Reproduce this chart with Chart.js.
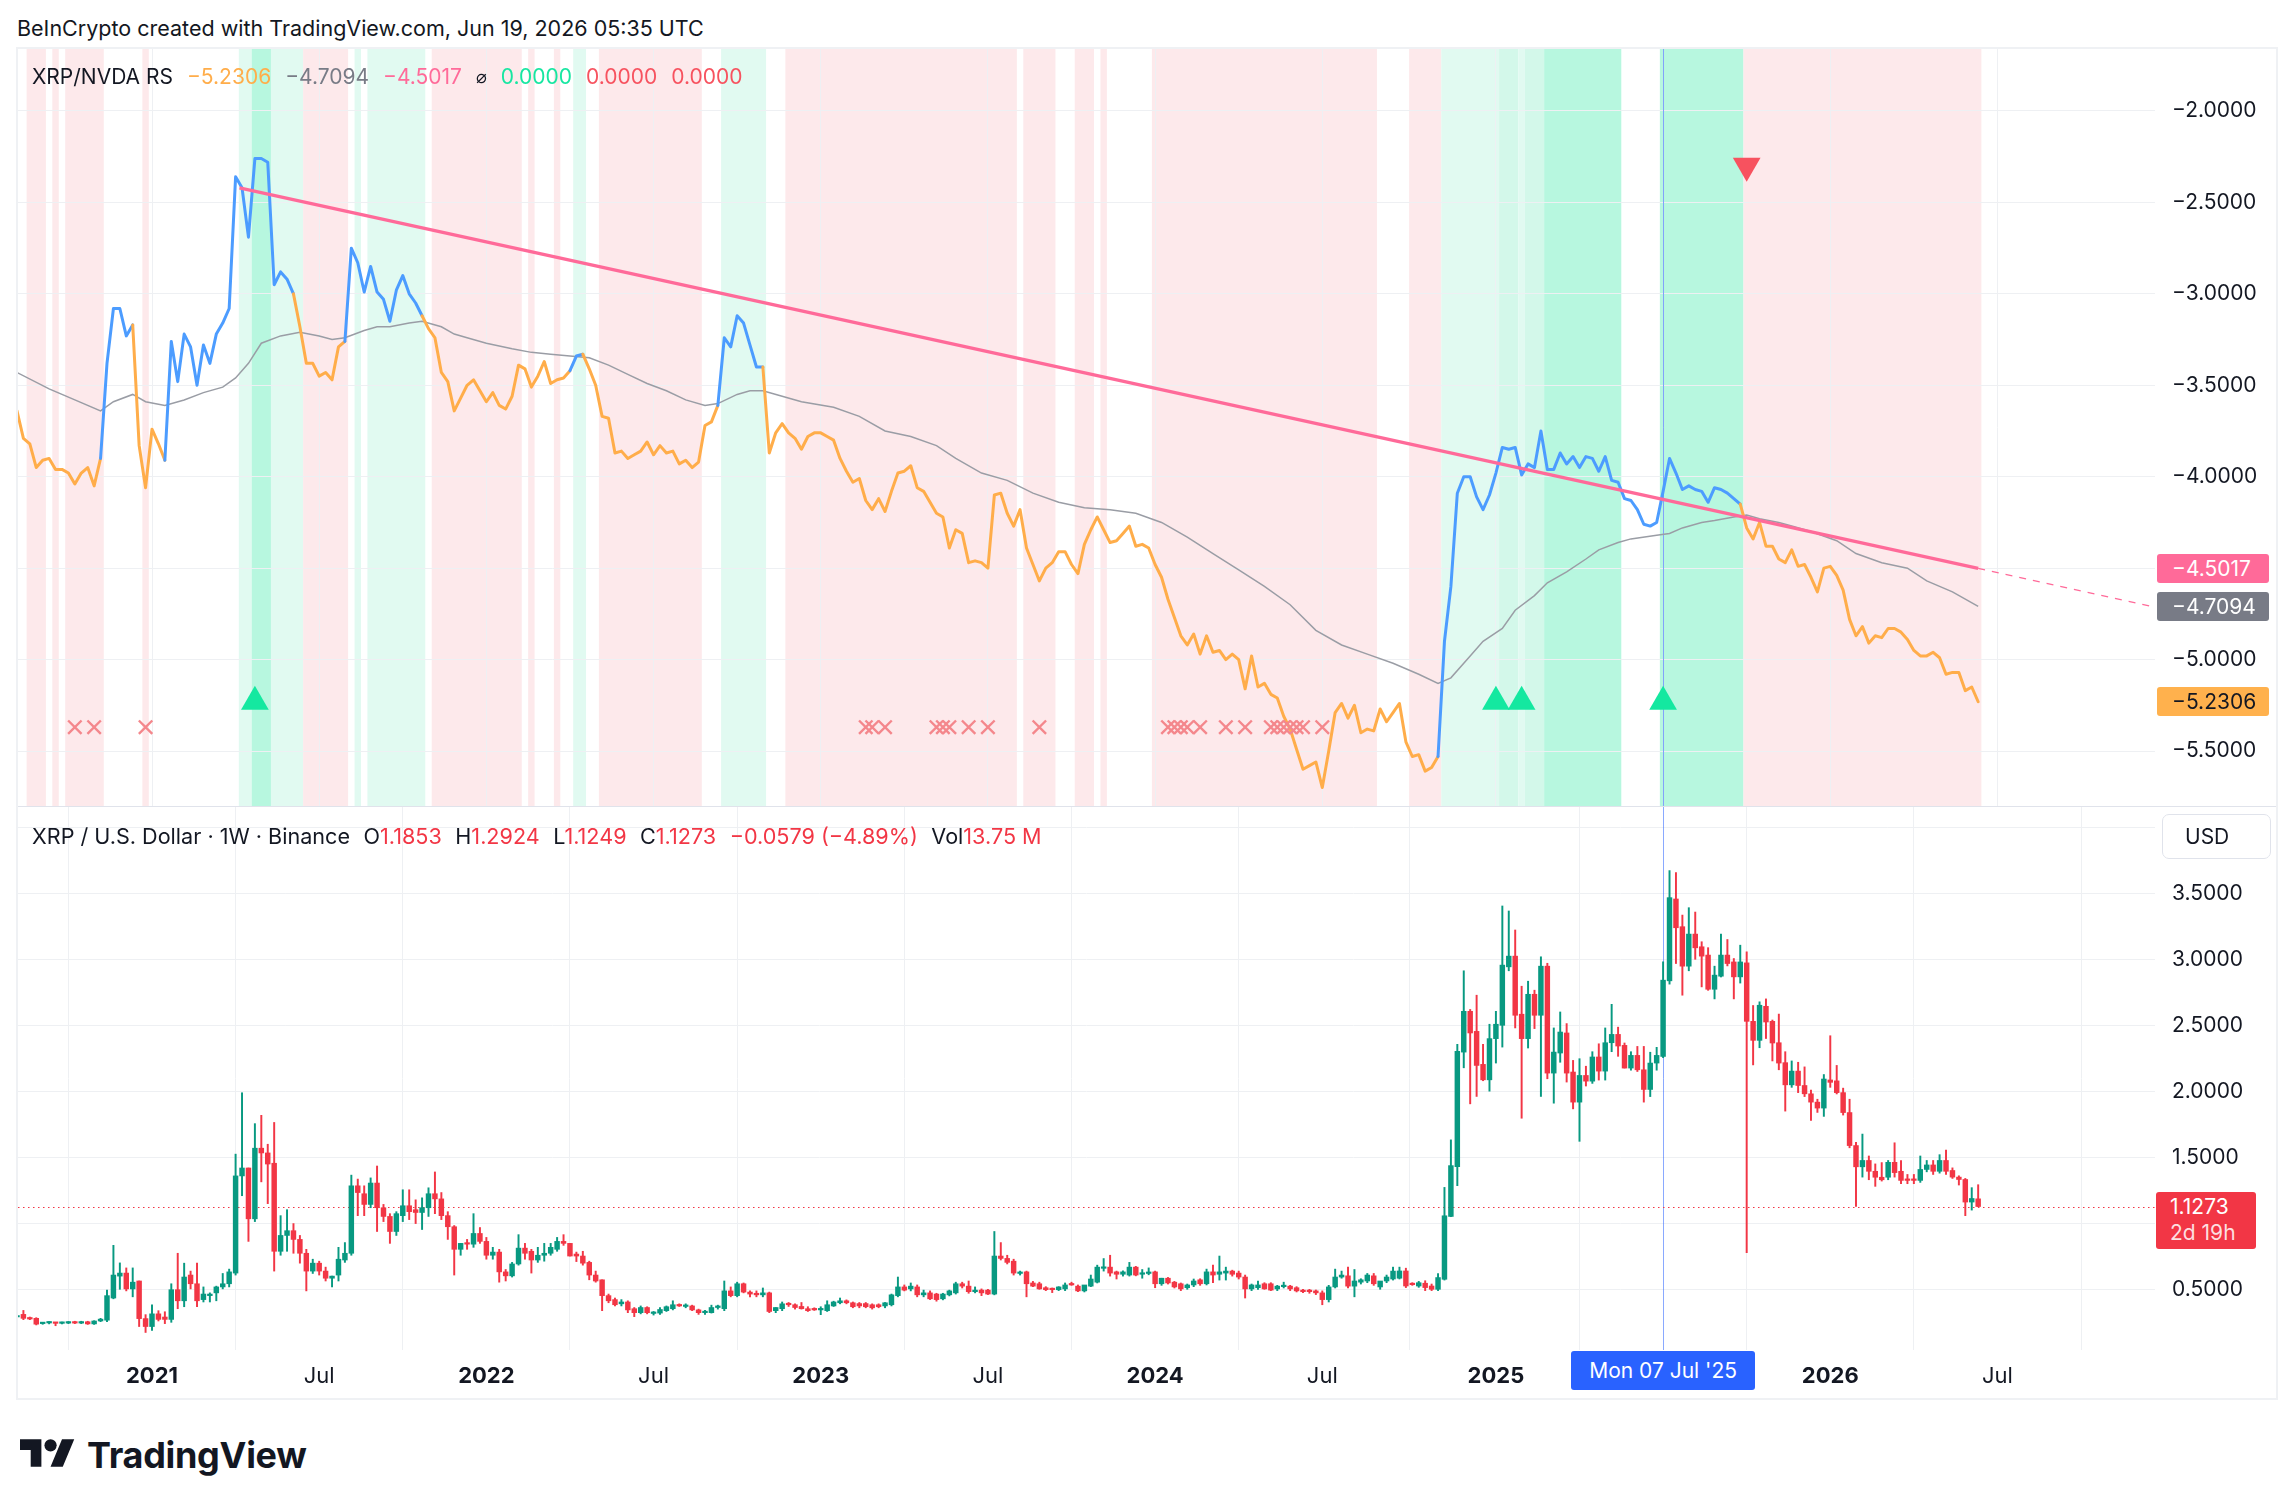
<!DOCTYPE html>
<html>
<head>
<meta charset="utf-8">
<title>XRP/NVDA RS</title>
<script src="https://cdn.jsdelivr.net/npm/chart.js@4.4.1/dist/chart.umd.min.js"></script>
<style>
  html, body { margin:0; padding:0; background:#ffffff; }
  body { width:2295px; height:1508px; position:relative; overflow:hidden; font-family: Inter, "Noto Sans", "DejaVu Sans", sans-serif; color:#131722; }
  .a { position:absolute; }
  canvas { position:absolute; display:block; }
  #hdr { left:17px; top:14px; font-size:21.5px; line-height:28px; white-space:nowrap; }
  #frame { left:16px; top:47px; width:2262px; height:1353px; border:2px solid #EFF1F4; box-sizing:border-box; }
  #sep { left:18px; top:806px; width:2258px; height:1px; background:#E0E3EB; }
  .legend { position:absolute; display:flex; align-items:center; gap:14px; font-size:21px; white-space:nowrap; height:30px; line-height:30px; }
  .tag { position:absolute; left:2157px; width:112px; height:29px; border-radius:3px; font-size:21px; line-height:29px; padding-left:15px; box-sizing:border-box; white-space:nowrap; }
  .r { color:#F23645; }
</style>
</head>
<body>
<div id="hdr" class="a">BeInCrypto created with TradingView.com, Jun 19, 2026 05:35 UTC</div>
<div id="frame" class="a"></div>
<canvas id="topc" width="2259" height="757" style="left:18px;top:49px;width:2259px;height:757px;"></canvas>
<canvas id="botc" width="2259" height="591" style="left:18px;top:807px;width:2259px;height:591px;"></canvas>
<div id="sep" class="a"></div>

<div class="legend" style="left:32px;top:62px;">
  <span>XRP/NVDA RS</span>
  <span style="color:#FFAD4A">−5.2306</span>
  <span style="color:#787B86">−4.7094</span>
  <span style="color:#FF6A99">−4.5017</span>
  <span style="font-family:'DejaVu Sans',sans-serif;font-size:18px;">⌀</span>
  <span style="color:#17E6A1">0.0000</span>
  <span style="color:#F7525F">0.0000</span>
  <span style="color:#F7525F">0.0000</span>
</div>
<div class="legend" style="left:32px;top:821px;gap:13.5px;font-size:21.6px;">
  <span>XRP / U.S. Dollar · 1W · Binance</span>
  <span>O<span class="r">1.1853</span></span>
  <span>H<span class="r">1.2924</span></span>
  <span>L<span class="r">1.1249</span></span>
  <span>C<span class="r">1.1273</span></span>
  <span class="r">−0.0579 (−4.89%)</span>
  <span>Vol<span class="r">13.75 M</span></span>
</div>
<div class="a" style="left:2162px;top:814px;width:109px;height:45px;border:1px solid #E0E3EB;border-radius:7px;box-sizing:border-box;font-size:21px;line-height:43px;padding-left:22px;">USD</div>

<svg class="a" style="left:20px;top:1433px;" width="55" height="43" viewBox="0 0 36 28"><path fill="#131722" d="M14 22H7V11H0V4h14v18zM28 22h-8l7.5-18h8L28 22z"/><circle fill="#131722" cx="20" cy="8" r="4"/></svg>
<div class="a" style="left:87px;top:1433px;font-size:36px;font-weight:700;line-height:44px;letter-spacing:-0.3px;">TradingView</div>

<script>
// ---------------- DATA ----------------
const firstBarDate = '2020-08-10';            // Monday of the first weekly bar
const tickDates  = ['2021-01-04','2021-07-05','2022-01-03','2022-07-04','2023-01-02','2023-07-03','2024-01-01','2024-07-01','2025-01-06','2025-07-07','2026-01-05','2026-07-06'];
const tickLabels = ['2021','Jul','2022','Jul','2023','Jul','2024','Jul','2025','Jul','2026','Jul'];
const crosshairDate = '2025-07-07';
const crosshairLabel = "Mon 07 Jul '25";

// weekly XRP/USD candles [open, high, low, close]
const ohlc = [
[0.290,0.305,0.284,0.300],[0.310,0.340,0.270,0.280],[0.280,0.290,0.270,0.275],[0.280,0.285,0.230,0.236],[0.240,0.250,0.235,0.248],
[0.245,0.255,0.238,0.248],[0.248,0.250,0.224,0.242],[0.242,0.252,0.238,0.248],[0.244,0.256,0.240,0.254],[0.254,0.258,0.240,0.244],
[0.244,0.258,0.240,0.254],[0.254,0.258,0.234,0.238],[0.238,0.262,0.234,0.260],[0.260,0.280,0.255,0.274],[0.266,0.494,0.254,0.452],
[0.434,0.833,0.428,0.608],[0.600,0.700,0.500,0.623],[0.623,0.662,0.488,0.503],[0.503,0.662,0.443,0.554],[0.563,0.563,0.218,0.278],
[0.278,0.308,0.173,0.218],[0.218,0.383,0.188,0.314],[0.314,0.338,0.260,0.272],[0.290,0.330,0.240,0.272],[0.272,0.542,0.250,0.497],
[0.497,0.773,0.353,0.413],[0.413,0.698,0.368,0.593],[0.608,0.638,0.503,0.542],[0.542,0.698,0.368,0.413],[0.422,0.518,0.404,0.464],
[0.452,0.473,0.404,0.464],[0.473,0.524,0.413,0.518],[0.518,0.620,0.503,0.542],[0.542,0.653,0.518,0.632],[0.623,1.524,0.608,1.359],
[1.359,1.989,1.209,1.419],[1.419,1.419,0.863,1.034],[1.034,1.755,1.013,1.569],[1.569,1.818,1.314,1.533],[1.533,1.599,1.149,1.449],
[1.455,1.764,0.638,0.788],[0.788,1.058,0.758,0.908],[0.908,1.103,0.788,0.944],[0.944,0.998,0.773,0.878],[0.878,0.908,0.698,0.773],
[0.773,0.803,0.488,0.638],[0.638,0.728,0.620,0.698],[0.698,0.713,0.608,0.638],[0.638,0.668,0.563,0.584],[0.584,0.600,0.518,0.600],
[0.608,0.818,0.563,0.728],[0.722,0.854,0.704,0.773],[0.773,1.365,0.758,1.284],[1.284,1.335,1.058,1.233],[1.224,1.284,1.058,1.143],
[1.143,1.344,1.118,1.305],[1.305,1.434,0.938,1.118],[1.118,1.143,1.013,1.052],[1.052,1.073,0.848,0.938],[0.938,1.088,0.908,1.073],
[1.058,1.254,1.013,1.133],[1.133,1.254,1.028,1.088],[1.103,1.178,0.998,1.082],[1.082,1.193,0.953,1.118],[1.118,1.269,1.052,1.224],
[1.224,1.389,1.073,1.185],[1.185,1.233,1.028,1.058],[1.058,1.088,0.878,0.974],[0.974,0.983,0.608,0.803],[0.803,0.848,0.758,0.848],
[0.848,0.878,0.803,0.842],[0.842,1.073,0.818,0.923],[0.923,0.968,0.848,0.863],[0.863,0.893,0.728,0.758],[0.758,0.818,0.728,0.782],
[0.782,0.803,0.554,0.632],[0.632,0.650,0.563,0.602],[0.602,0.704,0.593,0.692],[0.692,0.914,0.683,0.812],[0.812,0.848,0.728,0.773],
[0.788,0.803,0.623,0.722],[0.722,0.818,0.704,0.758],[0.758,0.848,0.713,0.773],[0.773,0.848,0.758,0.818],[0.803,0.893,0.788,0.863],
[0.863,0.914,0.833,0.848],[0.848,0.848,0.752,0.752],[0.767,0.782,0.710,0.752],[0.752,0.788,0.683,0.698],[0.704,0.713,0.572,0.608],
[0.608,0.638,0.554,0.563],[0.572,0.572,0.338,0.452],[0.452,0.464,0.398,0.413],[0.422,0.434,0.374,0.383],[0.390,0.422,0.374,0.404],
[0.404,0.413,0.323,0.344],[0.353,0.362,0.293,0.323],[0.323,0.374,0.314,0.362],[0.362,0.368,0.314,0.323],[0.317,0.332,0.305,0.323],
[0.320,0.362,0.310,0.347],[0.338,0.374,0.332,0.368],[0.353,0.413,0.344,0.383],[0.383,0.390,0.370,0.374],[0.370,0.390,0.360,0.378],
[0.374,0.380,0.338,0.344],[0.344,0.350,0.310,0.323],[0.323,0.340,0.310,0.332],[0.323,0.380,0.320,0.362],[0.362,0.380,0.350,0.374],
[0.353,0.563,0.338,0.488],[0.488,0.518,0.443,0.452],[0.452,0.554,0.443,0.542],[0.542,0.548,0.473,0.479],[0.479,0.488,0.443,0.464],
[0.470,0.488,0.443,0.458],[0.458,0.510,0.443,0.473],[0.473,0.479,0.323,0.332],[0.338,0.362,0.323,0.362],[0.353,0.404,0.338,0.390],
[0.390,0.400,0.370,0.383],[0.383,0.390,0.350,0.362],[0.370,0.400,0.350,0.353],[0.353,0.368,0.332,0.338],[0.353,0.360,0.340,0.344],
[0.344,0.368,0.308,0.353],[0.338,0.413,0.332,0.383],[0.374,0.410,0.370,0.404],[0.398,0.434,0.390,0.413],[0.413,0.420,0.390,0.398],
[0.398,0.404,0.360,0.368],[0.392,0.400,0.360,0.374],[0.392,0.400,0.360,0.368],[0.383,0.390,0.350,0.360],[0.383,0.390,0.360,0.368],
[0.374,0.400,0.360,0.398],[0.383,0.464,0.374,0.458],[0.452,0.593,0.443,0.518],[0.518,0.533,0.488,0.494],[0.503,0.548,0.488,0.524],
[0.518,0.533,0.443,0.458],[0.458,0.494,0.443,0.473],[0.473,0.488,0.422,0.428],[0.464,0.470,0.410,0.422],[0.428,0.470,0.420,0.464],
[0.458,0.494,0.450,0.488],[0.473,0.554,0.464,0.542],[0.542,0.554,0.510,0.524],[0.524,0.563,0.470,0.482],[0.482,0.518,0.473,0.494],
[0.494,0.503,0.452,0.473],[0.494,0.500,0.460,0.464],[0.464,0.938,0.458,0.752],[0.752,0.854,0.722,0.734],[0.734,0.758,0.692,0.704],
[0.713,0.728,0.608,0.623],[0.620,0.638,0.608,0.628],[0.632,0.638,0.443,0.542],[0.548,0.560,0.520,0.524],[0.542,0.554,0.500,0.503],
[0.512,0.520,0.490,0.497],[0.503,0.510,0.475,0.497],[0.497,0.520,0.490,0.518],[0.503,0.548,0.490,0.533],[0.542,0.554,0.530,0.533],
[0.524,0.533,0.482,0.488],[0.488,0.530,0.480,0.533],[0.524,0.608,0.520,0.578],[0.554,0.683,0.548,0.668],[0.659,0.733,0.638,0.668],
[0.668,0.758,0.600,0.623],[0.632,0.638,0.578,0.614],[0.614,0.640,0.600,0.632],[0.608,0.704,0.600,0.668],[0.668,0.674,0.602,0.608],
[0.614,0.650,0.584,0.623],[0.620,0.662,0.610,0.623],[0.632,0.638,0.512,0.542],[0.542,0.584,0.530,0.584],[0.584,0.590,0.540,0.548],
[0.554,0.560,0.510,0.518],[0.542,0.548,0.490,0.503],[0.512,0.540,0.500,0.533],[0.533,0.578,0.520,0.563],[0.572,0.580,0.530,0.542],
[0.542,0.653,0.533,0.632],[0.632,0.683,0.550,0.608],[0.614,0.752,0.570,0.632],[0.623,0.668,0.570,0.638],[0.638,0.645,0.600,0.614],
[0.623,0.638,0.578,0.593],[0.593,0.608,0.434,0.503],[0.503,0.540,0.490,0.533],[0.512,0.563,0.500,0.533],[0.542,0.550,0.500,0.503],
[0.542,0.550,0.490,0.494],[0.503,0.530,0.490,0.524],[0.520,0.554,0.510,0.524],[0.524,0.530,0.490,0.503],[0.512,0.520,0.480,0.488],
[0.494,0.500,0.475,0.482],[0.494,0.500,0.470,0.482],[0.488,0.495,0.460,0.473],[0.473,0.488,0.383,0.422],[0.422,0.530,0.404,0.518],
[0.518,0.653,0.510,0.593],[0.593,0.638,0.584,0.608],[0.602,0.668,0.510,0.524],[0.524,0.650,0.443,0.563],[0.554,0.580,0.540,0.572],
[0.563,0.620,0.550,0.608],[0.602,0.620,0.530,0.542],[0.518,0.560,0.500,0.563],[0.563,0.608,0.550,0.593],[0.578,0.668,0.570,0.638],
[0.584,0.668,0.578,0.639],[0.639,0.660,0.513,0.525],[0.545,0.550,0.530,0.535],[0.525,0.560,0.515,0.550],[0.546,0.565,0.490,0.513],
[0.525,0.540,0.490,0.500],[0.500,0.619,0.490,0.589],[0.576,1.272,0.570,1.057],[1.052,1.632,1.050,1.437],[1.429,2.356,1.285,2.303],
[2.297,2.913,2.178,2.606],[2.606,2.620,1.905,2.442],[2.454,2.728,1.961,2.196],[2.204,2.356,2.080,2.087],[2.087,2.508,2.001,2.399],
[2.399,2.606,2.214,2.508],[2.500,3.404,2.335,2.956],[2.943,3.366,2.913,3.024],[3.024,3.222,2.480,2.576],[2.584,2.796,1.796,2.399],
[2.399,2.834,2.328,2.735],[2.735,2.766,2.475,2.576],[2.576,3.019,1.961,2.948],[2.948,2.970,2.095,2.138],[2.138,2.480,1.910,2.297],
[2.290,2.601,2.220,2.449],[2.442,2.513,2.070,2.138],[2.146,2.234,1.867,1.918],[1.918,2.247,1.621,2.120],[2.120,2.190,2.040,2.077],
[2.077,2.300,2.060,2.260],[2.260,2.360,2.085,2.153],[2.153,2.480,2.085,2.368],[2.368,2.659,2.300,2.431],[2.431,2.486,2.265,2.343],
[2.348,2.366,2.176,2.176],[2.176,2.300,2.160,2.272],[2.272,2.340,2.150,2.163],[2.163,2.340,1.918,2.014],[2.014,2.296,1.960,2.214],
[2.214,2.333,2.160,2.272],[2.264,2.981,2.255,2.842],[2.837,3.672,2.812,3.467],[3.457,3.657,2.968,3.239],[3.247,3.335,2.728,2.948],
[2.948,3.391,2.913,3.191],[3.191,3.358,3.000,3.087],[3.095,3.133,2.791,3.024],[3.032,3.088,2.765,2.773],[2.773,2.948,2.700,2.880],
[2.872,3.191,2.866,3.032],[3.032,3.150,2.950,2.968],[2.980,3.006,2.700,2.867],[2.867,3.107,2.820,2.980],[2.973,3.057,0.778,2.530],
[2.530,2.650,2.200,2.386],[2.386,2.678,2.330,2.652],[2.644,2.700,2.400,2.525],[2.530,2.540,2.230,2.366],[2.368,2.585,2.163,2.214],
[2.217,2.300,1.850,2.049],[2.049,2.230,2.030,2.153],[2.153,2.220,1.990,2.044],[2.044,2.185,1.960,1.981],[1.981,2.010,1.780,1.918],
[1.918,1.940,1.840,1.873],[1.873,2.127,1.810,2.093],[2.086,2.421,2.030,2.068],[2.079,2.196,1.980,1.990],[1.990,2.024,1.820,1.839],
[1.839,1.940,1.572,1.589],[1.589,1.613,1.127,1.428],[1.428,1.676,1.350,1.476],[1.476,1.510,1.330,1.394],[1.394,1.450,1.280,1.349],
[1.349,1.460,1.320,1.330],[1.349,1.476,1.330,1.462],[1.462,1.610,1.350,1.384],[1.394,1.476,1.300,1.325],[1.332,1.370,1.300,1.325],
[1.332,1.370,1.300,1.325],[1.325,1.510,1.310,1.408],[1.408,1.476,1.390,1.442],[1.442,1.476,1.370,1.394],[1.394,1.520,1.380,1.476],
[1.476,1.555,1.370,1.394],[1.400,1.420,1.340,1.350],[1.350,1.360,1.290,1.332],[1.332,1.340,1.058,1.161],[1.161,1.270,1.100,1.188],
[1.1853,1.2924,1.1249,1.1273]
];

// XRP/NVDA relative strength, one value per weekly bar
const rsValues = [
-3.64,-3.79,-3.82,-3.95,-3.91,-3.90,-3.96,-3.96,-3.98,-4.04,-3.98,-3.95,-4.05,-3.90,-3.38,-3.08,-3.08,-3.23,-3.17,-3.83,
-4.06,-3.74,-3.82,-3.91,-3.26,-3.48,-3.22,-3.29,-3.50,-3.28,-3.38,-3.22,-3.16,-3.08,-2.36,-2.42,-2.69,-2.26,-2.26,-2.28,
-2.95,-2.88,-2.92,-3.00,-3.18,-3.38,-3.38,-3.45,-3.43,-3.47,-3.29,-3.26,-2.75,-2.83,-2.99,-2.85,-2.99,-3.03,-3.15,-2.98,
-2.90,-3.00,-3.05,-3.12,-3.19,-3.24,-3.43,-3.48,-3.64,-3.57,-3.50,-3.47,-3.53,-3.59,-3.54,-3.61,-3.63,-3.56,-3.39,-3.41,
-3.51,-3.45,-3.37,-3.49,-3.47,-3.46,-3.42,-3.34,-3.33,-3.41,-3.50,-3.67,-3.68,-3.87,-3.86,-3.90,-3.88,-3.86,-3.81,-3.88,
-3.83,-3.87,-3.86,-3.93,-3.91,-3.95,-3.92,-3.72,-3.70,-3.61,-3.24,-3.29,-3.12,-3.16,-3.28,-3.40,-3.40,-3.87,-3.76,-3.71,
-3.76,-3.79,-3.85,-3.78,-3.76,-3.76,-3.78,-3.80,-3.90,-3.97,-4.03,-4.01,-4.13,-4.18,-4.12,-4.19,-4.08,-3.98,-3.97,-3.94,
-4.06,-4.08,-4.14,-4.20,-4.22,-4.39,-4.29,-4.31,-4.47,-4.46,-4.47,-4.50,-4.10,-4.09,-4.20,-4.27,-4.18,-4.39,-4.48,-4.57,
-4.50,-4.47,-4.41,-4.41,-4.48,-4.53,-4.37,-4.29,-4.22,-4.29,-4.36,-4.35,-4.31,-4.27,-4.38,-4.37,-4.39,-4.48,-4.55,-4.67,
-4.77,-4.87,-4.92,-4.86,-4.97,-4.87,-4.96,-4.95,-5.00,-4.97,-5.00,-5.16,-4.98,-5.15,-5.13,-5.19,-5.21,-5.31,-5.38,-5.49,
-5.60,-5.58,-5.56,-5.70,-5.50,-5.29,-5.24,-5.32,-5.25,-5.40,-5.38,-5.39,-5.27,-5.34,-5.29,-5.24,-5.45,-5.53,-5.52,-5.61,
-5.59,-5.53,-4.90,-4.60,-4.09,-4.00,-4.00,-4.11,-4.18,-4.10,-3.98,-3.84,-3.85,-3.84,-3.99,-3.93,-3.95,-3.75,-3.96,-3.96,
-3.87,-3.93,-3.89,-3.95,-3.89,-3.90,-3.97,-3.89,-4.02,-4.03,-4.12,-4.13,-4.18,-4.26,-4.27,-4.25,-4.08,-3.90,-3.98,-4.07,
-4.05,-4.07,-4.08,-4.14,-4.06,-4.07,-4.09,-4.12,-4.15,-4.28,-4.34,-4.25,-4.38,-4.38,-4.45,-4.47,-4.40,-4.49,-4.48,-4.55,
-4.63,-4.50,-4.49,-4.54,-4.62,-4.78,-4.87,-4.82,-4.91,-4.87,-4.88,-4.83,-4.83,-4.85,-4.89,-4.95,-4.98,-4.98,-4.96,-4.99,
-5.08,-5.07,-5.07,-5.17,-5.15,-5.2306
];

// moving average of the RS line (bar index, value)
const maIndex  = [0,5,9,13,15,18,20,23,26,29,32,34,36,38,41,44,47,49,51,54,56,58,61,63,66,68,70,73,77,80,83,86,89,92,95,98,101,104,107,109,112,114,116,119,122,127,131,135,139,143,146,150,154,158,162,166,170,174,178,182,186,190,194,198,202,206,210,214,218,221,223,226,228,231,233,236,238,241,244,246,249,251,255,257,259,262,264,267,269,271,274,276,279,283,286,290,294,297,301,305];
const maValues = [-3.43,-3.52,-3.58,-3.64,-3.59,-3.55,-3.59,-3.61,-3.58,-3.54,-3.51,-3.46,-3.38,-3.27,-3.23,-3.21,-3.23,-3.25,-3.24,-3.20,-3.18,-3.18,-3.16,-3.15,-3.18,-3.22,-3.24,-3.27,-3.30,-3.32,-3.33,-3.34,-3.35,-3.39,-3.44,-3.49,-3.53,-3.58,-3.61,-3.60,-3.55,-3.53,-3.53,-3.56,-3.59,-3.62,-3.67,-3.75,-3.78,-3.83,-3.90,-3.98,-4.02,-4.09,-4.14,-4.17,-4.18,-4.20,-4.25,-4.33,-4.42,-4.51,-4.60,-4.70,-4.84,-4.92,-4.97,-5.02,-5.08,-5.13,-5.10,-4.98,-4.90,-4.83,-4.73,-4.65,-4.58,-4.52,-4.45,-4.40,-4.36,-4.34,-4.32,-4.31,-4.28,-4.25,-4.24,-4.22,-4.21,-4.23,-4.25,-4.27,-4.30,-4.35,-4.42,-4.47,-4.50,-4.57,-4.63,-4.7094];

// descending trend line and its dashed projection
const trendIndex = [34.6, 305];
const trendValues = [-2.42, -4.5017];
const trendExtIndex = [305, 332.5];
const trendExtValues = [-4.5017, -4.713];

// bars where the RS line is drawn blue (above its average)
const blueRanges = [[14,18],[24,43],[52,63],[87,88],[110,116],[222,268]];

// background bands: first bar, last bar, kind
const bandStart = [2,6,8,20,35,37,40,45,53,55,65,80,84,87,91,110,120,157,165,169,177,217,222,231,234,235,238,256,269];
const bandEnd   = [4,6,13,20,36,39,44,51,53,63,78,80,84,88,106,116,155,161,167,169,211,221,230,233,234,237,249,268,305];
const bandKind  = ['r','r','r','r','g1','g3','g1','r','g1','g1','r','r','r','g1','r','g1','r','r','r','r','r','r','g1','g2','g1','g2','g3','g3','r'];

// signal markers
const upIndex = [37, 230, 234, 256];
const upLevel = -5.23;
const downIndex = [269];
const downLevel = -2.30;
const crossIndex = [9,12,20,132,133,135,143,144,145,148,151,159,179,180,181,182,184,188,191,195,196,197,198,199,200,203];
const crossLevel = -5.37;

// axis ticks
const rsTicks = [-2,-2.5,-3,-3.5,-4,-4.5,-5,-5.5];
const rsTicksHidden = [-4.5];
const priceTicks = [0.5,1,1.5,2,2.5,3,3.5,4];
const priceTicksHidden = [1,4];
const countdownText = '2d 19h';

// ---------------- LAYOUT / STYLE ----------------
const X_MIN = 0.16, X_MAX = 332.5;
const AXIS_W = 122;
const BLUE = '#4C9CFF', ORANGE = '#FFAD4A', PINK = '#FF6A99';
const UP = '#089981', DOWN = '#F23645';
const GRID = '#EEF0F3';
const bandColors = { r:'#FDE9EB', g1:'#E1FAF1', g2:'#D3F8EA', g3:'#B7F7DF' };
const WEEK = 7*24*3600*1000;
const barOf = d => Math.round((Date.parse(d) - Date.parse(firstBarDate)) / WEEK);
const tickIdx = tickDates.map(barOf);
const crossIdx = barOf(crosshairDate);
const fmt = v => (v < 0 ? '\u2212' : '') + Math.abs(v).toFixed(4);
const near = (a, list) => list.some(b => Math.abs(a - b) < 1e-6);
const isBlueBar = i => blueRanges.some(r => i >= r[0] && i <= r[1]);

Chart.defaults.font.family = 'Inter, "Noto Sans", sans-serif';
Chart.defaults.color = '#131722';

function xAxis(showLabels) {
  return {
    type: 'linear', min: X_MIN, max: X_MAX, offset: false,
    grid: { color: GRID, lineWidth: 1, drawTicks: false },
    border: { display: false },
    afterBuildTicks: s => { s.ticks = tickIdx.map(v => ({ value: v })); },
    afterFit: s => { s.height = showLabels ? 48 : 0; s.paddingLeft = 0; s.paddingRight = 0; },
    ticks: {
      display: showLabels, autoSkip: false, maxRotation: 0, padding: 13,
      color: '#131722',
      callback: (v, i) => tickLabels[i],
      font: ctx => ({ size: 22, weight: (ctx.tick && /^\d{4}$/.test(ctx.tick.label)) ? '700' : '400' })
    }
  };
}
function yAxis(min, max, list, hidden) {
  return {
    position: 'right', min: min, max: max,
    grid: { color: GRID, lineWidth: 1, drawTicks: false },
    border: { display: false },
    afterBuildTicks: s => { s.ticks = list.map(v => ({ value: v })); },
    afterFit: s => { s.width = AXIS_W; s.paddingTop = 0; s.paddingBottom = 0; },
    ticks: { padding: 17, color: '#131722', font: { size: 21 },
      callback: v => near(v, hidden) ? '' : fmt(v) }
  };
}

const bandPlugin = {
  id: 'bands',
  beforeDraw(chart) {
    const { ctx, chartArea: a, scales: { x } } = chart;
    ctx.save();
    ctx.beginPath(); ctx.rect(a.left, a.top, a.width, a.height); ctx.clip();
    bandStart.forEach((s, i) => {
      const x0 = x.getPixelForValue(s - 0.5), x1 = x.getPixelForValue(bandEnd[i] + 0.5);
      ctx.fillStyle = bandColors[bandKind[i]];
      ctx.fillRect(x0, a.top, x1 - x0, a.height);
    });
    ctx.restore();
  }
};
const crosshairPlugin = {
  id: 'crosshair',
  beforeDatasetsDraw(chart) {
    const { ctx, chartArea: a, scales: { x } } = chart;
    const px = Math.round(x.getPixelForValue(crossIdx)) + 0.5;
    ctx.save();
    ctx.strokeStyle = 'rgba(41,98,255,0.55)'; ctx.lineWidth = 1;
    ctx.beginPath(); ctx.moveTo(px, a.top); ctx.lineTo(px, a.bottom); ctx.stroke();
    ctx.restore();
  }
};
const priceLinePlugin = {
  id: 'priceLine',
  beforeDatasetsDraw(chart) {
    const { ctx, chartArea: a, scales: { y } } = chart;
    const last = ohlc[ohlc.length - 1][3];
    const py = Math.round(y.getPixelForValue(last)) + 0.5;
    ctx.save();
    ctx.strokeStyle = '#F23645'; ctx.lineWidth = 1; ctx.setLineDash([1.5, 3.5]);
    ctx.beginPath(); ctx.moveTo(a.left, py); ctx.lineTo(a.right, py); ctx.stroke();
    ctx.restore();
  }
};

// ---------------- TOP PANE: RS ----------------
const rsPts = rsValues.map((v, i) => ({ x: i, y: v }));
const maPts = maIndex.map((x, i) => ({ x: x, y: maValues[i] }));
const trendPts = trendIndex.map((x, i) => ({ x: x, y: trendValues[i] }));
const trendExtPts = trendExtIndex.map((x, i) => ({ x: x, y: trendExtValues[i] }));

const topChart = new Chart(document.getElementById('topc'), {
  type: 'line',
  data: { datasets: [
    { data: maPts, borderColor: '#9A9DA5', borderWidth: 1.5, pointRadius: 0, tension: 0, order: 5 },
    { data: rsPts, borderColor: ORANGE, borderWidth: 3, pointRadius: 0, tension: 0, borderJoinStyle: 'round', borderCapStyle: 'round',
      segment: { borderColor: ctx => isBlueBar(ctx.p1DataIndex) ? BLUE : ORANGE }, order: 4 },
    { data: trendPts, borderColor: PINK, borderWidth: 3.4, pointRadius: 0, order: 3 },
    { data: trendExtPts, borderColor: PINK, borderWidth: 1.3, borderDash: [7, 7], pointRadius: 0, order: 3 },
    { type: 'scatter', data: upIndex.map(i => ({ x: i, y: upLevel })), pointStyle: 'triangle', pointRadius: 16,
      pointBackgroundColor: '#14E8A0', pointBorderWidth: 0, order: 1 },
    { type: 'scatter', data: downIndex.map(i => ({ x: i, y: downLevel })), pointStyle: 'triangle', pointRotation: 180, pointRadius: 16,
      pointBackgroundColor: '#F7525F', pointBorderWidth: 0, order: 1 },
    { type: 'scatter', data: crossIndex.map(i => ({ x: i, y: crossLevel })), pointStyle: 'crossRot', pointRadius: 9.5,
      pointBorderColor: '#F4878C', pointBackgroundColor: '#F4878C', pointBorderWidth: 2.4, order: 1 }
  ]},
  options: {
    responsive: false, animation: false, events: [],
    layout: { padding: 0, autoPadding: false },
    plugins: { legend: { display: false }, tooltip: { enabled: false } },
    scales: { x: xAxis(false), y: yAxis(-5.8007, -1.661, rsTicks, rsTicksHidden) }
  },
  plugins: [bandPlugin, crosshairPlugin]
});

// ---------------- BOTTOM PANE: CANDLES ----------------
const candleColors = ohlc.map(c => c[3] >= c[0] ? UP : DOWN);
const botChart = new Chart(document.getElementById('botc'), {
  type: 'bar',
  data: { datasets: [
    { data: ohlc.map((c, i) => ({ x: i, y: [c[2], c[1]] })), backgroundColor: candleColors, barThickness: 1.3, grouped: false, order: 2 },
    { data: ohlc.map((c, i) => ({ x: i, y: [c[0], c[3]] })), backgroundColor: candleColors, barThickness: 4.8, grouped: false, minBarLength: 1.5, order: 1 }
  ]},
  options: {
    responsive: false, animation: false, events: [],
    layout: { padding: 0, autoPadding: false },
    plugins: { legend: { display: false }, tooltip: { enabled: false } },
    scales: { x: xAxis(true), y: yAxis(0.0402, 4.1538, priceTicks, priceTicksHidden) }
  },
  plugins: [crosshairPlugin, priceLinePlugin]
});

// ---------------- AXIS TAGS (real text) ----------------
function addDiv(style, html) {
  const d = document.createElement('div');
  d.className = 'a';
  d.setAttribute('style', style);
  d.innerHTML = html;
  document.body.appendChild(d);
  return d;
}
const topY = 49, botY = 807, leftX = 18;
const ty = topChart.scales.y;
[[trendValues[1], PINK, '#fff'], [maValues[maValues.length - 1], '#787B86', '#fff'], [rsValues[rsValues.length - 1], '#FFB14D', '#131722']]
  .forEach(([v, bg, fg]) => {
    const yy = topY + ty.getPixelForValue(v) - 14.5;
    const d = addDiv('', fmt(v));
    d.className = 'tag';
    d.style.top = yy + 'px'; d.style.background = bg; d.style.color = fg;
  });
const by = botChart.scales.y;
const lastClose = ohlc[ohlc.length - 1][3];
const pyy = botY + by.getPixelForValue(lastClose);
addDiv('left:2156px;top:' + (pyy - 15) + 'px;width:100px;height:57px;background:#F23645;border-radius:3px;color:#fff;font-size:21px;line-height:26px;padding:2px 0 0 14px;box-sizing:border-box;',
  lastClose.toFixed(4) + '<br><span style="color:rgba(255,255,255,0.85)">' + countdownText + '</span>');
const cx = leftX + botChart.scales.x.getPixelForValue(crossIdx);
addDiv('left:' + (cx - 92) + 'px;top:1351px;width:184px;height:39px;background:#2962FF;border-radius:3px;color:#fff;font-size:21px;line-height:39px;text-align:center;', crosshairLabel);
</script>
</body>
</html>
